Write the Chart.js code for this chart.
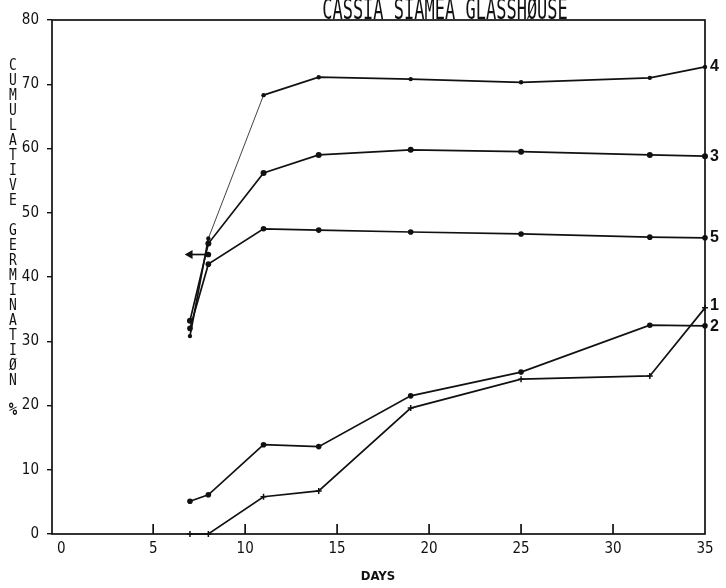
<!DOCTYPE html>
<html>
<head>
<meta charset="utf-8">
<script src="https://cdn.jsdelivr.net/npm/chart.js@4.4.0/dist/chart.umd.min.js"></script>
<style>
  html, body { margin: 0; padding: 0; background: #fff; }
  #wrap { width: 726px; height: 588px; }
</style>
</head>
<body>
<div id="wrap"><canvas id="germChart"></canvas></div>
<script>
// days after sowing
const days = [7, 8, 11, 14, 19, 25, 32, 35];

// cumulative germination % per treatment
const treat1 = [0, 0, 5.8, 6.7, 19.6, 24.1, 24.6, 35.2];
const treat2 = [5.1, 6.1, 13.9, 13.6, 21.5, 25.2, 32.5, 32.4];
const treat3 = [33.2, 45.2, 56.2, 59.0, 59.8, 59.5, 59.0, 58.8];
const treat4 = [30.8, 46.0, 68.3, 71.1, 70.8, 70.3, 71.0, 72.7];
const treat5 = [32.0, 42.0, 47.5, 47.3, 47.0, 46.7, 46.2, 46.1];
const markerDays = [7, 8];
const markerVals = [43.5, 43.5];

const xTicks = [0, 5, 10, 15, 20, 25, 30, 35];
const yTicks = [0, 10, 20, 30, 40, 50, 60, 70, 80];

const chartTitle = "CASSIA SIAMEA GLASSHØUSE";
const yTitle = "CUMULATIVE GERMINATIØN %";
const xTitle = "DAYS";

const ink = "#111";
const pts = (xs, ys) => xs.map((d, i) => ({ x: d, y: ys[i] }));

function series(label, ys, extra) {
  return Object.assign({
    label: label,
    data: pts(days, ys),
    borderColor: ink,
    backgroundColor: ink,
    borderWidth: 1.7,
    pointRadius: 2.6,
    pointBorderWidth: 0,
    tension: 0,
    clip: false,
  }, extra || {});
}

// frame, inward x ticks, curve numbers and the stacked lettering
const plotterPlugin = {
  id: "plotter",
  afterDraw(chart) {
    const { ctx, chartArea: a, scales } = chart;
    const x = scales.x;
    ctx.save();
    ctx.strokeStyle = ink;
    ctx.lineWidth = 1.7;
    ctx.strokeRect(a.left, a.top, a.right - a.left, a.bottom - a.top);

    xTicks.forEach(v => {
      if (v <= 0 || v >= 35) return;
      const px = x.getPixelForValue(v);
      ctx.beginPath();
      ctx.moveTo(px, a.bottom);
      ctx.lineTo(px, a.bottom - 10);
      ctx.stroke();
    });

    // curve numbers at the right-hand end
    ctx.fillStyle = ink;
    ctx.font = "bold 16px 'Liberation Sans', Arial, sans-serif";
    ctx.textAlign = "left";
    ctx.textBaseline = "middle";
    chart.data.datasets.forEach((ds, i) => {
      if (!ds.tag) return;
      const meta = chart.getDatasetMeta(i);
      const last = meta.data[meta.data.length - 1];
      ctx.fillText(ds.tag, last.x + 5, last.y + (ds.tagShift || 0));
    });

    // stacked y title
    ctx.textAlign = "center";
    let ty = 66;
    for (const ch of yTitle) {
      if (ch !== " ") {
        ctx.save();
        ctx.translate(13, ty);
        ctx.scale(1, 1.2);
        ctx.font = ch === "%" ? "bold 14px 'DejaVu Sans Mono', monospace" : "13px 'DejaVu Sans Mono', monospace";
        ctx.fillText(ch, 0, 0);
        ctx.restore();
      }
      ty += 15;
    }

    // chart title, tall plotter letters
    ctx.save();
    ctx.translate(445, 19);
    ctx.scale(1, 1.7);
    ctx.font = "17px 'DejaVu Sans Mono', monospace";
    ctx.textBaseline = "alphabetic";
    ctx.fillText(chartTitle, 0, 0);
    ctx.restore();

    // x title
    ctx.font = "bold 13px 'DejaVu Sans Condensed', 'Liberation Sans Narrow', sans-serif";
    ctx.textBaseline = "middle";
    ctx.fillText(xTitle, 378, 577);
    ctx.restore();
  }
};

const tickFont = { family: "'Liberation Sans Narrow', 'DejaVu Sans Condensed', sans-serif", size: 15 };

const ctx = document.getElementById("germChart");
const germChart = new Chart(ctx, {
  type: "line",
  data: {
    datasets: [
      series("4", treat4, {
        tag: "4",
        pointRadius: 2.2,
        segment: { borderWidth: c => (c.p0DataIndex === 1 ? 0.8 : 1.7) },
      }),
      series("3", treat3, { tag: "3", pointRadius: 3 }),
      series("5", treat5, { tag: "5", pointRadius: 2.8 }),
      series("1", treat1, { tag: "1", pointStyle: "cross", pointRadius: 3, pointBorderWidth: 1.5, tagShift: -2 }),
      series("2", treat2, { tag: "2", pointRadius: 2.8, tagShift: 1 }),
      {
        label: "",
        data: pts(markerDays, markerVals),
        borderColor: ink,
        backgroundColor: ink,
        borderWidth: 1.7,
        pointStyle: ["triangle", "circle"],
        rotation: [-90, 0],
        pointRadius: [3.5, 2],
        clip: false,
      },
    ],
  },
  options: {
    responsive: true,
    maintainAspectRatio: false,
    animation: false,
    layout: { padding: { top: 20, right: 21, left: 0, bottom: 0 } },
    plugins: {
      legend: false,
      tooltip: { enabled: false },
    },
    scales: {
      x: {
        type: "linear",
        min: -0.5,
        max: 35,
        afterFit: s => { s.height = 54; },
        afterBuildTicks: s => { s.ticks = xTicks.map(v => ({ value: v })); },
        border: { display: false },
        grid: { display: false, drawTicks: false },
        ticks: { color: ink, font: tickFont, padding: 6, maxRotation: 0 },
      },
      y: {
        min: 0,
        max: 80,
        afterFit: s => { s.width = 52; },
        afterBuildTicks: s => { s.ticks = yTicks.map(v => ({ value: v })); },
        border: { display: false },
        grid: { drawOnChartArea: false, drawTicks: true, tickLength: 5, color: ink, lineWidth: 1.4 },
        ticks: { color: ink, font: tickFont, padding: 8 },
      },
    },
  },
  plugins: [plotterPlugin],
});
</script>
</body>
</html>
